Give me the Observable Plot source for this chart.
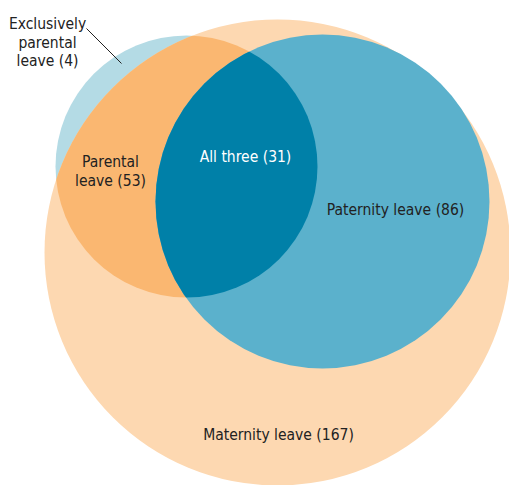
<!DOCTYPE html>
<html>
<head>
<meta charset="utf-8">
<script src="https://cdn.jsdelivr.net/npm/d3@7"></script>
<script src="https://cdn.jsdelivr.net/npm/@observablehq/plot@0.6"></script>
<style>
  html, body { margin: 0; padding: 0; background: #fff; }
  svg { display: block; }
</style>
</head>
<body>
<div id="chart"></div>
<script>
// Sets (circle layout in chart units)
const setNames = ["Maternity leave", "Parental leave", "Paternity leave"];
const setCx = [277, 186, 322];
const setCy = [252, 166, 201];
const setR = [233, 131, 167];

// Region counts and labels
const regionLabels = ["Exclusively\nparental\nleave (4)", "Parental\nleave (53)", "All three (31)", "Paternity leave (86)", "Maternity leave (167)"];
const regionX = [47, 110, 245, 395, 278];
const regionY = [41, 170, 155, 208, 433];
const regionColor = ["#222222", "#222222", "#ffffff", "#222222", "#222222"];

// Leader line for the exclusively-parental label
const leaderX1 = [86], leaderY1 = [28], leaderX2 = [121], leaderY2 = [63];

const sets = setNames.map((name, i) => ({name, cx: setCx[i], cy: setCy[i], r: setR[i]}));
const mat = sets[0], par = sets[1], pat = sets[2];
const labels = regionLabels.map((t, i) => ({t, x: regionX[i], y: regionY[i], c: regionColor[i]}));
const leader = leaderX1.map((x1, i) => ({x1, y1: leaderY1[i], x2: leaderX2[i], y2: leaderY2[i]}));

const W = 509, H = 485;
const circle = (d, fill) => Plot.dot([d], {x: "cx", y: "cy", r: "r", fill, stroke: "none"});

const chart = Plot.plot({
  width: W, height: H,
  margin: 0,
  x: {type: "linear", domain: [0, W], range: [0, W], axis: null},
  y: {type: "linear", domain: [0, H], range: [0, H], axis: null},
  r: {type: "linear", domain: [0, W], range: [0, W]},
  style: {fontFamily: "'DejaVu Sans Condensed', 'DejaVu Sans', sans-serif", background: "#fff"},
  marks: [
    circle(par, "#b4dbe5"),   // parental (outside maternity shows)
    circle(mat, "#fdd8b1"),   // maternity
    circle(par, "#fab771"),   // parental ∩ maternity (clipped)
    circle(pat, "#5bb1cc"),   // paternity
    circle(par, "#0080a8"),   // all three (clipped to paternity)
    Plot.link(leader, {x1: "x1", y1: "y1", x2: "x2", y2: "y2", stroke: "#222", strokeWidth: 1}),
    Plot.text(labels, {x: "x", y: "y", text: "t", fill: "c", fontSize: 15.5, lineHeight: 1.22, textAnchor: "middle", lineAnchor: "middle"})
  ]
});

// Clip the intersection layers to the relevant circles
const sx = chart.scale("x"), sy = chart.scale("y");
const svg = d3.select(chart);
const defs = svg.insert("defs", ":first-child");
function addClip(id, d) {
  defs.append("clipPath").attr("id", id).append("circle")
    .attr("cx", sx.apply(d.cx)).attr("cy", sy.apply(d.cy))
    .attr("r", sx.apply(d.r) - sx.apply(0));
}
addClip("clip-mat", mat);
addClip("clip-pat", pat);
const dotGroups = svg.selectAll('g[aria-label="dot"]').nodes();
d3.select(dotGroups[2]).attr("clip-path", "url(#clip-mat)");
d3.select(dotGroups[4]).attr("clip-path", "url(#clip-pat)");

document.getElementById("chart").appendChild(chart);
</script>
</body>
</html>
